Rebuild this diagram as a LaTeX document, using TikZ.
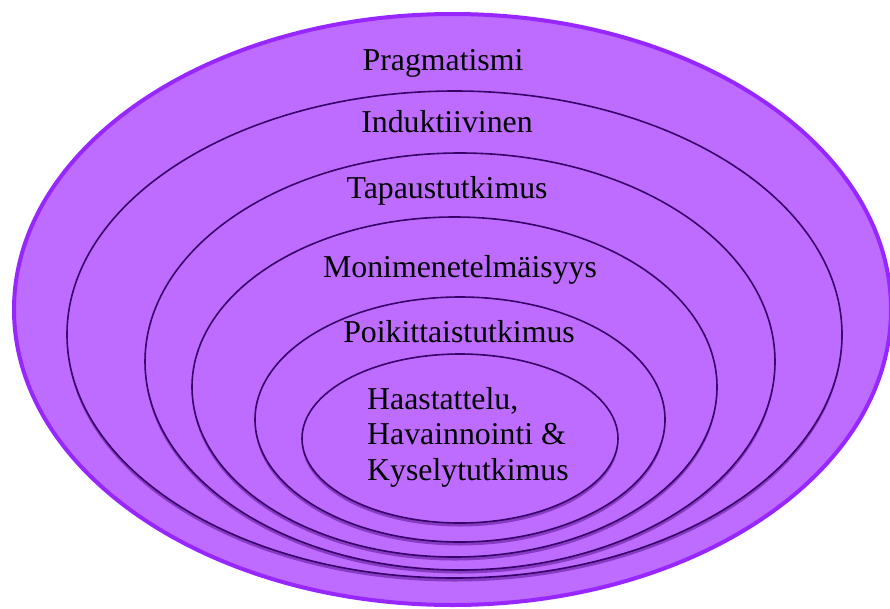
\documentclass[tikz,border=0pt]{standalone}
\usepackage{fontspec}
\setmainfont{Liberation Serif}
\usetikzlibrary{shapes.geometric,shadows}
\definecolor{fillv}{RGB}{189,108,255}
\definecolor{rimv}{RGB}{152,38,255}
\definecolor{linev}{RGB}{55,0,105}
\definecolor{shadowv}{RGB}{70,0,120}
\begin{document}
\begin{tikzpicture}[x=1pt,y=-1pt,
  ring/.style={ellipse, draw=linev, line width=1.6pt, fill=fillv, inner sep=0pt, outer sep=0pt,
    drop shadow={shadow xshift=0pt, shadow yshift=-3.5pt, opacity=0.45, fill=shadowv}},
  lbl/.style={font=\fontsize{31.8}{35.5}\selectfont, inner sep=0pt, anchor=base, text=black}]
\useasboundingbox (0,0) rectangle (890,608);
\node[ellipse, draw=rimv, line width=4pt, fill=fillv, inner sep=0pt, minimum width=877pt, minimum height=591pt] (e1) at (452.5,309.5) {};
\node[ring, minimum width=775pt, minimum height=487pt] (e2) at (454.5,334.5) {};
\node[ring, minimum width=630pt, minimum height=417pt] (e3) at (460,361.5) {};
\node[ring, minimum width=525pt, minimum height=340pt] (e4) at (454.5,387) {};
\node[ring, minimum width=410pt, minimum height=245pt] (e5) at (460,419.5) {};
\node[ring, minimum width=316pt, minimum height=169pt] (e6) at (460,438.5) {};
\node[lbl] (t1) at (443,70) {Pragmatismi};
\node[lbl] (t2) at (447,132) {Induktiivinen};
\node[lbl] (t3) at (447,198) {Tapaustutkimus};
\node[lbl] (t4) at (460,277) {Monimenetelmäisyys};
\node[lbl] (t5) at (459,342) {Poikittaistutkimus};
\node[lbl, anchor=base west] (t6a) at (367,409) {Haastattelu,};
\node[lbl, anchor=base west] (t6b) at (367,444) {Havainnointi \&};
\node[lbl, anchor=base west] (t6c) at (367,480) {Kyselytutkimus};
\end{tikzpicture}
\end{document}
